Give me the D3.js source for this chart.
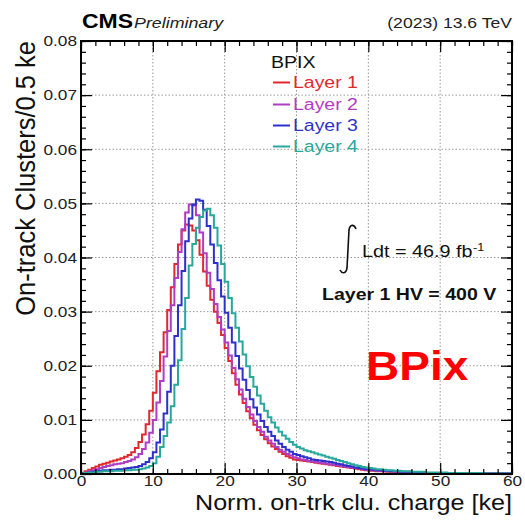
<!DOCTYPE html>
<html>
<head>
<meta charset="utf-8">
<script src="https://cdn.jsdelivr.net/npm/d3@7"></script>
<style>
  html, body { margin: 0; padding: 0; background: #fff; }
  svg { display: block; font-family: "Liberation Sans", Arial, Helvetica, sans-serif; }
</style>
</head>
<body>
<svg id="chart" width="525" height="521"></svg>
<script>
// Normalised on-track cluster charge, BPix layers, 0.5 ke bins from 0 to 60 ke
const binWidth = 0.5;
const xTicks = [0, 10, 20, 30, 40, 50, 60];
const yTicks = [0.00, 0.01, 0.02, 0.03, 0.04, 0.05, 0.06, 0.07, 0.08];
const layerNames = ["Layer 1", "Layer 2", "Layer 3", "Layer 4"];
const layerColors = ["#e0282e", "#b03cc4", "#2e30cc", "#26a89c"];

const layer1 = [
  0.0002,0.0005,0.0008,0.0011,0.0014,0.0017,0.0019,0.0021,0.0023,0.0025,
  0.0027,0.0029,0.0032,0.0035,0.0040,0.0048,0.0059,0.0073,0.0092,0.0117,
  0.0150,0.0190,0.0225,0.0262,0.0303,0.0345,0.0388,0.0424,0.0450,0.0461,
  0.0459,0.0450,0.0432,0.0405,0.0374,0.0348,0.0322,0.0300,0.0279,0.0257,
  0.0233,0.0209,0.0186,0.0165,0.0147,0.0131,0.0116,0.0103,0.0091,0.0081,
  0.0072,0.0064,0.0057,0.0051,0.0046,0.0041,0.0037,0.0033,0.0030,0.0027,
  0.0026,0.0025,0.0024,0.0023,0.0022,0.0021,0.0020,0.0019,0.0018,0.0017,
  0.0016,0.0015,0.0014,0.0013,0.0012,0.0011,0.0010,0.0009,0.0008,0.0007,
  0.0006,0.0006,0.0005,0.0005,0.0005,0.0004,0.0004,0.0004,0.0003,0.0003,
  0.0003,0.0003,0.0002,0.0002,0.0002,0.0002,0.0002,0.0002,0.0002,0.0001,
  0.0001,0.0001,0.0001,0.0001,0.0001,0.0001,0.0001,0.0001,0.0001,0.0001,
  0.0001,0.0001,0.0001,0.0001,0.0001,0.0001,0.0001,0.0001,0.0001,0.0001
];
const layer2 = [
  0.0001,0.0003,0.0005,0.0007,0.0009,0.0011,0.0013,0.0015,0.0016,0.0018,
  0.0019,0.0020,0.0022,0.0024,0.0027,0.0031,0.0037,0.0046,0.0058,0.0076,
  0.0100,0.0132,0.0172,0.0217,0.0264,0.0312,0.0362,0.0410,0.0452,0.0483,
  0.0498,0.0496,0.0478,0.0446,0.0408,0.0372,0.0342,0.0314,0.0290,0.0267,
  0.0243,0.0219,0.0196,0.0175,0.0156,0.0139,0.0124,0.0110,0.0098,0.0087,
  0.0078,0.0069,0.0062,0.0056,0.0050,0.0045,0.0041,0.0037,0.0034,0.0031,
  0.0029,0.0027,0.0026,0.0024,0.0023,0.0022,0.0021,0.0020,0.0019,0.0018,
  0.0017,0.0016,0.0015,0.0014,0.0013,0.0012,0.0011,0.0010,0.0009,0.0008,
  0.0007,0.0007,0.0006,0.0006,0.0005,0.0005,0.0005,0.0004,0.0004,0.0004,
  0.0003,0.0003,0.0003,0.0003,0.0002,0.0002,0.0002,0.0002,0.0002,0.0002,
  0.0001,0.0001,0.0001,0.0001,0.0001,0.0001,0.0001,0.0001,0.0001,0.0001,
  0.0001,0.0001,0.0001,0.0001,0.0001,0.0001,0.0001,0.0001,0.0001,0.0001
];
const layer3 = [
  0.0001,0.0002,0.0003,0.0004,0.0005,0.0006,0.0007,0.0007,0.0008,0.0008,
  0.0009,0.0009,0.0010,0.0011,0.0012,0.0013,0.0015,0.0018,0.0022,0.0029,
  0.0040,0.0058,0.0082,0.0112,0.0152,0.0200,0.0255,0.0312,0.0375,0.0430,
  0.0472,0.0498,0.0507,0.0505,0.0488,0.0458,0.0424,0.0390,0.0358,0.0328,
  0.0298,0.0270,0.0243,0.0218,0.0195,0.0174,0.0155,0.0138,0.0123,0.0110,
  0.0098,0.0087,0.0078,0.0070,0.0062,0.0056,0.0050,0.0045,0.0041,0.0037,
  0.0035,0.0033,0.0031,0.0029,0.0027,0.0026,0.0025,0.0024,0.0023,0.0022,
  0.0021,0.0019,0.0018,0.0016,0.0015,0.0014,0.0012,0.0011,0.0010,0.0009,
  0.0009,0.0008,0.0007,0.0007,0.0006,0.0006,0.0005,0.0005,0.0005,0.0004,
  0.0004,0.0004,0.0003,0.0003,0.0003,0.0003,0.0002,0.0002,0.0002,0.0002,
  0.0002,0.0002,0.0002,0.0001,0.0001,0.0001,0.0001,0.0001,0.0001,0.0001,
  0.0001,0.0001,0.0001,0.0001,0.0001,0.0001,0.0001,0.0001,0.0001,0.0001
];
const layer4 = [
  0.0001,0.0002,0.0003,0.0003,0.0004,0.0004,0.0005,0.0005,0.0005,0.0006,
  0.0006,0.0006,0.0007,0.0007,0.0008,0.0008,0.0009,0.0010,0.0012,0.0015,
  0.0020,0.0032,0.0050,0.0070,0.0095,0.0125,0.0165,0.0210,0.0268,0.0325,
  0.0385,0.0425,0.0455,0.0475,0.0487,0.0490,0.0478,0.0455,0.0422,0.0388,
  0.0355,0.0325,0.0297,0.0270,0.0245,0.0221,0.0199,0.0179,0.0161,0.0145,
  0.0130,0.0117,0.0105,0.0095,0.0086,0.0078,0.0071,0.0065,0.0059,0.0054,
  0.0050,0.0047,0.0044,0.0042,0.0040,0.0038,0.0036,0.0034,0.0032,0.0030,
  0.0028,0.0026,0.0024,0.0022,0.0020,0.0018,0.0016,0.0015,0.0013,0.0012,
  0.0011,0.0010,0.0009,0.0009,0.0008,0.0007,0.0007,0.0006,0.0006,0.0005,
  0.0005,0.0005,0.0004,0.0004,0.0004,0.0004,0.0003,0.0003,0.0003,0.0003,
  0.0003,0.0003,0.0002,0.0002,0.0002,0.0002,0.0002,0.0002,0.0002,0.0002,
  0.0002,0.0002,0.0001,0.0001,0.0001,0.0001,0.0001,0.0001,0.0001,0.0001
];
const layers = [layer1, layer2, layer3, layer4];

// ---------------------------------------------------------------------------
const svg = d3.select("#chart");
const frame = { left: 81, right: 512, top: 41, bottom: 474 };
const SX = 1.15; // horizontal glyph stretch used for all labels

const x = d3.scaleLinear().domain([0, 60]).range([frame.left, frame.right]);
const y = d3.scaleLinear().domain([0, 0.08]).range([frame.bottom, frame.top]);

function label(px, py, str, o = {}) {
  const t = svg.append("text")
    .attr("transform", `translate(${px},${py}) scale(${o.sx ?? SX},1)`)
    .attr("font-size", o.size ?? 15)
    .attr("fill", o.fill ?? "#111")
    .attr("text-anchor", o.anchor ?? "start")
    .text(str);
  if (o.weight) t.attr("font-weight", o.weight);
  if (o.style) t.attr("font-style", o.style);
  return t;
}

// dotted grid at the major ticks
const grid = svg.append("g").attr("stroke", "#9a9a9a").attr("stroke-width", 1)
  .attr("stroke-dasharray", "1.5,2");
xTicks.slice(1, -1).forEach(v => grid.append("line")
  .attr("x1", x(v)).attr("x2", x(v)).attr("y1", frame.top).attr("y2", frame.bottom));
yTicks.slice(1, -1).forEach(v => grid.append("line")
  .attr("x1", frame.left).attr("x2", frame.right).attr("y1", y(v)).attr("y2", y(v)));

// step histograms, each rising from the baseline at x = 0
const line = d3.line().curve(d3.curveStepAfter).x(d => x(d[0])).y(d => y(d[1]));
layers.forEach((vals, k) => {
  const pts = vals.map((v, i) => [i * binWidth, v]);
  pts.push([vals.length * binWidth, vals[vals.length - 1]]);
  const path = "M" + x(0) + "," + y(0) + line(pts).replace(/^M/, "L");
  svg.append("path")
    .attr("d", path)
    .attr("fill", "none")
    .attr("stroke", layerColors[k])
    .attr("stroke-width", 2);
});

// axes with inward ticks on all four sides
function styleAxis(g) {
  g.select(".domain").remove();
  g.selectAll(".tick line").attr("stroke", "#000").attr("stroke-width", 1.2);
}
const xMinor = d3.range(0, 60.001, 2);
const yMinor = d3.range(0, 0.08001, 0.002);

svg.append("g").attr("transform", `translate(0,${frame.bottom})`)
  .call(d3.axisBottom(x).tickValues(xMinor).tickSize(-5).tickFormat("")).call(styleAxis);
const xAx = svg.append("g").attr("transform", `translate(0,${frame.bottom})`)
  .call(d3.axisBottom(x).tickValues(xTicks).tickSize(-11).tickPadding(1).tickFormat(d3.format("d")))
  .call(styleAxis);
xAx.selectAll(".tick text").attr("font-size", 15).attr("fill", "#222")
  .attr("font-family", '"Liberation Sans", Arial, sans-serif')
  .attr("transform", `scale(${SX},1)`);

svg.append("g").attr("transform", `translate(0,${frame.top})`)
  .call(d3.axisTop(x).tickValues(xMinor).tickSize(-5).tickFormat("")).call(styleAxis);
svg.append("g").attr("transform", `translate(0,${frame.top})`)
  .call(d3.axisTop(x).tickValues(xTicks).tickSize(-11).tickFormat("")).call(styleAxis);

svg.append("g").attr("transform", `translate(${frame.left},0)`)
  .call(d3.axisLeft(y).tickValues(yMinor).tickSize(-5).tickFormat("")).call(styleAxis);
const yAx = svg.append("g").attr("transform", `translate(${frame.left},0)`)
  .call(d3.axisLeft(y).tickValues(yTicks).tickSize(-11).tickPadding(4).tickFormat(d3.format(".2f")))
  .call(styleAxis);
yAx.selectAll(".tick text").attr("font-size", 15).attr("fill", "#222")
  .attr("font-family", '"Liberation Sans", Arial, sans-serif')
  .attr("transform", `scale(${SX},1)`).attr("x", -4 / SX);

svg.append("g").attr("transform", `translate(${frame.right},0)`)
  .call(d3.axisRight(y).tickValues(yMinor).tickSize(-5).tickFormat("")).call(styleAxis);
svg.append("g").attr("transform", `translate(${frame.right},0)`)
  .call(d3.axisRight(y).tickValues(yTicks).tickSize(-11).tickFormat("")).call(styleAxis);

// frame
svg.append("rect")
  .attr("x", frame.left).attr("y", frame.top)
  .attr("width", frame.right - frame.left).attr("height", frame.bottom - frame.top)
  .attr("fill", "none").attr("stroke", "#000").attr("stroke-width", 2);

// axis titles
label(frame.right, 510, "Norm. on-trk clu. charge [ke]", { size: 21.5, anchor: "end", fill: "#111", sx: 1.17 });
svg.append("text")
  .attr("transform", `translate(35,${frame.top}) rotate(-90) scale(1,1.12)`)
  .attr("font-size", 25.5).attr("fill", "#111").attr("text-anchor", "end")
  .text("On-track Clusters/0.5 ke");

// header
label(82, 28, "CMS", { size: 20, weight: "bold", fill: "#000" });
label(134, 28, "Preliminary", { size: 15.5, style: "italic", fill: "#222" });
label(frame.right, 28, "(2023) 13.6 TeV", { size: 15.3, anchor: "end", fill: "#222" });

// legend
label(271, 68, "BPIX", { size: 17, fill: "#111" });
const legendBase = [88, 110, 131, 152];
layerNames.forEach((name, k) => {
  svg.append("line")
    .attr("x1", 273).attr("x2", 290)
    .attr("y1", legendBase[k] - 5.5).attr("y2", legendBase[k] - 5.5)
    .attr("stroke", layerColors[k]).attr("stroke-width", 2);
  label(293, legendBase[k], name, { size: 16.5, fill: layerColors[k], sx: 1.18 });
});

// luminosity with integral sign
svg.append("path")
  .attr("d", "M356,229 C354,224 350,224 349,230 L347,268 C346,274 342,274 340,270")
  .attr("fill", "none").attr("stroke", "#111").attr("stroke-width", 1.6);
label(362, 257, "Ldt = 46.9 fb", { size: 16.5, fill: "#111", sx: 1.2 });
label(473, 251, "-1", { size: 10.5, fill: "#111", sx: 1.2 });

label(322, 300, "Layer 1 HV = 400 V", { size: 17, weight: "bold", fill: "#111" });
label(366, 380, "BPix", { size: 40, weight: "bold", fill: "#ff0000" });
</script>
</body>
</html>
